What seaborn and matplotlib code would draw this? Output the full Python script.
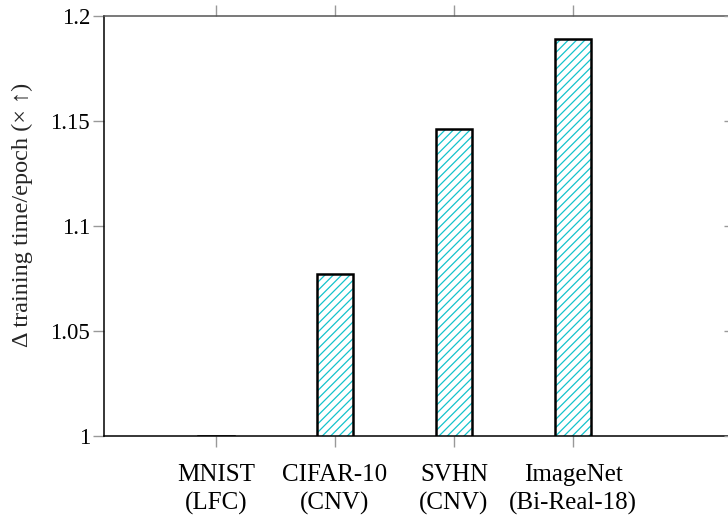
import matplotlib
matplotlib.use("Agg")
import matplotlib.pyplot as plt
import seaborn as sns
import pandas as pd

categories = ["MNIST\n(LFC)", "CIFAR-10\n(CNV)", "SVHN\n(CNV)", "ImageNet\n(Bi-Real-18)"]
values = [1.0, 1.077, 1.146, 1.189]
yticks = [1.0, 1.05, 1.1, 1.15, 1.2]
ytick_labels = ["1", "1.05", "1.1", "1.15", "1.2"]

sns.set_theme(style="white")
plt.rcParams["font.family"] = ["Liberation Serif", "DejaVu Serif"]
plt.rcParams["hatch.linewidth"] = 0.9

df = pd.DataFrame({"cat": categories, "val": values})

fig = plt.figure(figsize=(7.28, 5.2), dpi=100)
ax = fig.add_axes([104 / 728, 84 / 520, 631 / 728, 420.5 / 520])

# hatched fill
sns.barplot(data=df, x="cat", y="val", ax=ax, width=0.30,
            color="white", edgecolor="#14c3cc", hatch="////", linewidth=0, saturation=1)
# black outlines
sns.barplot(data=df, x="cat", y="val", ax=ax, width=0.30, fill=False,
            color="black", edgecolor="black", linewidth=1.8)

ax.set_ylim(1.0, 1.2)
ax.set_xlim(-0.94, 4.36)
ax.set_yticks(yticks)
ax.set_yticklabels(ytick_labels)
ax.set_xlabel("")
ax.set_ylabel("Δ training time/epoch (× ↑)", fontsize=17.5)
ax.yaxis.set_label_coords(-0.1125, 0.526)

ax.tick_params(axis="both", colors="black")
ax.tick_params(axis="both", which="major", length=8, width=1, color="#999999",
               direction="out", top=True, bottom=True, left=True, right=False)
ax.tick_params(axis="y", labelsize=16.5, pad=2)
ax.tick_params(axis="x", labelsize=18, pad=12)
for lbl in ax.get_xticklabels():
    lbl.set_linespacing(1.32)
    lbl.set_horizontalalignment("center")

# right-side ticks (inward, visible near crop edge)
ax2 = ax.twinx()
ax2.set_ylim(ax.get_ylim())
ax2.set_yticks(yticks)
ax2.set_yticklabels([])
ax2.tick_params(axis="y", length=8, width=1, color="#999999", direction="in")
for s in ax2.spines.values():
    s.set_visible(False)

for s in ax.spines.values():
    s.set_visible(True)
    s.set_color("black")
    s.set_linewidth(1.1)
ax.spines["top"].set_color("#555555")

fig.savefig("out.png", dpi=100)
